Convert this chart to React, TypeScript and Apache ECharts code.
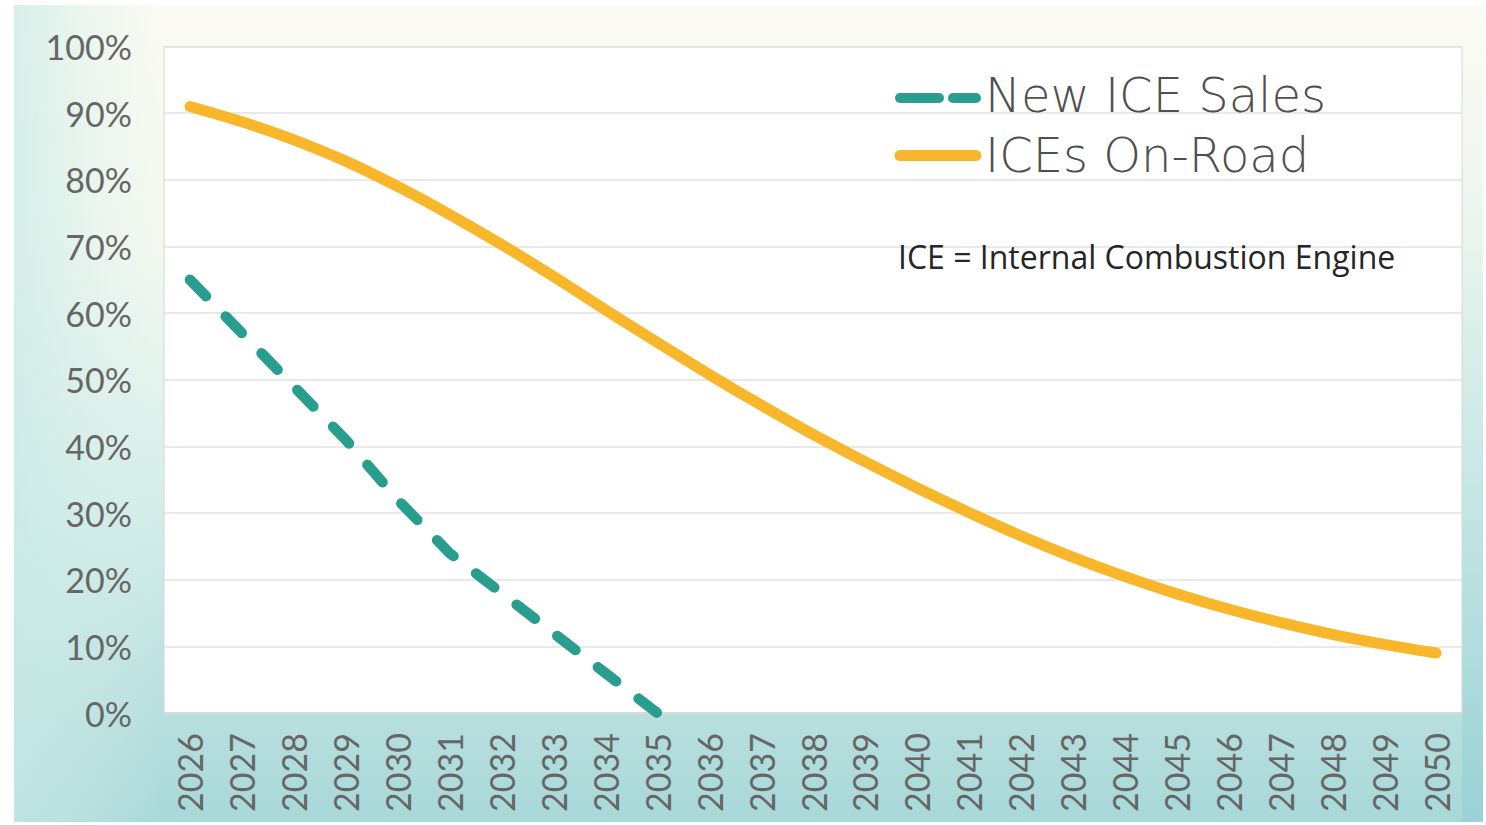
import React, { useEffect, useRef } from "react";
import * as echarts from "echarts";

const years = [
  "2026", "2027", "2028", "2029", "2030", "2031", "2032", "2033", "2034", "2035",
  "2036", "2037", "2038", "2039", "2040", "2041", "2042", "2043", "2044", "2045",
  "2046", "2047", "2048", "2049", "2050",
];

const newIceSales = [65, 57, 49, 41, 32, 24, 18, 12, 6, 0,
  null, null, null, null, null, null, null, null, null, null, null, null, null, null, null];

const iceOnRoad = [91, 88.7, 86, 82.8, 79, 74.8, 70.3, 65.5, 60.5, 55.6,
  50.8, 46.2, 41.8, 37.7, 33.8, 30.1, 26.6, 23.4, 20.5, 17.9, 15.6, 13.6, 11.8, 10.3, 9];

const yTicks = [0, 10, 20, 30, 40, 50, 60, 70, 80, 90, 100];

const seriesNames = ["New ICE Sales", "ICEs On-Road"];
const note = "ICE = Internal Combustion Engine";

const TEAL = "#2a9e8e";
const ORANGE = "#f8b62a";

export default function App() {
  const ref = useRef<HTMLDivElement>(null);

  useEffect(() => {
    if (!ref.current) return;
    const chart = echarts.init(ref.current, undefined, { renderer: "svg" });

    const option: any = {
      animation: false,
      backgroundColor: "#ffffff",
      grid: {
        left: 164,
        right: 24,
        top: 46.5,
        bottom: 112,
        show: true,
        backgroundColor: "#ffffff",
        borderColor: "#d6d6d6",
        borderWidth: 1,
      },
      xAxis: {
        type: "category",
        data: years,
        boundaryGap: true,
        axisLine: { show: true, lineStyle: { color: "#d8d8d8", width: 1.5 } },
        axisTick: { show: false },
        axisLabel: {
          rotate: 90,
          margin: 20,
          fontFamily: "Lato",
          fontSize: 34,
          color: "#666666",
          interval: 0,
        },
      },
      yAxis: {
        type: "value",
        min: yTicks[0],
        max: yTicks[yTicks.length - 1],
        interval: 10,
        axisLine: { show: false },
        axisTick: { show: false },
        splitLine: { lineStyle: { color: "#e2e2e2", width: 1.5 } },
        axisLabel: {
          margin: 32,
          fontFamily: "Lato",
          fontSize: 34,
          color: "#666666",
          formatter: (v: number) => `${v}%`,
        },
      },
      series: [
        {
          name: seriesNames[0],
          type: "line",
          data: newIceSales,
          showSymbol: false,
          symbol: "none",
          smooth: false,
          connectNulls: false,
          lineStyle: { color: TEAL, width: 10.5, type: [23, 28.3], cap: "round", join: "round" },
          itemStyle: { color: TEAL },
          z: 3,
        },
        {
          name: seriesNames[1],
          type: "line",
          data: iceOnRoad,
          showSymbol: false,
          symbol: "none",
          smooth: 0.3,
          lineStyle: { color: ORANGE, width: 11, cap: "round", join: "round" },
          itemStyle: { color: ORANGE },
          z: 4,
        },
      ],
      graphic: [
        {
          type: "rect",
          z: -20,
          silent: true,
          shape: { x: 14, y: 5, width: 1469, height: 817 },
          style: {
            fill: new echarts.graphic.LinearGradient(0, 0, 0, 1, [
              { offset: 0, color: "#fbfbf3" },
              { offset: 0.3, color: "#f3f8f0" },
              { offset: 0.6, color: "#d6eeea" },
              { offset: 1, color: "#a8d8d8" },
            ]),
          },
        },
        {
          type: "rect",
          z: -19,
          silent: true,
          shape: { x: 14, y: 5, width: 150, height: 817 },
          style: {
            fill: new echarts.graphic.LinearGradient(0, 0, 1, 0, [
              { offset: 0, color: "rgba(200,234,230,0.7)" },
              { offset: 1, color: "rgba(220,240,236,0)" },
            ]),
          },
        },
        {
          type: "rect",
          z: -19,
          silent: true,
          shape: { x: 1462, y: 5, width: 21, height: 817 },
          style: {
            fill: new echarts.graphic.LinearGradient(0, 0, 0, 1, [
              { offset: 0, color: "rgba(250,250,240,0)" },
              { offset: 0.35, color: "rgba(210,236,232,0.5)" },
              { offset: 1, color: "rgba(150,208,212,0.8)" },
            ]),
          },
        },
        // legend
        {
          type: "line",
          z: 100,
          silent: true,
          shape: { x1: 900, y1: 98, x2: 939, y2: 98 },
          style: { stroke: TEAL, lineWidth: 10, lineCap: "round" },
        },
        {
          type: "line",
          z: 100,
          silent: true,
          shape: { x1: 953, y1: 98, x2: 976, y2: 98 },
          style: { stroke: TEAL, lineWidth: 10, lineCap: "round" },
        },
        {
          type: "line",
          z: 100,
          silent: true,
          shape: { x1: 900, y1: 155.5, x2: 976, y2: 155.5 },
          style: { stroke: ORANGE, lineWidth: 11, lineCap: "round" },
        },
        {
          type: "text",
          z: 100,
          silent: true,
          x: 985,
          y: 95,
          style: {
            text: seriesNames[0],
            fontFamily: "DejaVu Sans",
            fontWeight: 300,
            fontSize: 48,
            fill: "#505050",
            verticalAlign: "middle",
            align: "left",
          },
        },
        {
          type: "text",
          z: 100,
          silent: true,
          x: 985,
          y: 155,
          style: {
            text: seriesNames[1],
            fontFamily: "DejaVu Sans",
            fontWeight: 300,
            fontSize: 48,
            fill: "#505050",
            verticalAlign: "middle",
            align: "left",
          },
        },
        {
          type: "text",
          z: 100,
          silent: true,
          x: 898,
          y: 256,
          style: {
            text: note,
            fontFamily: "Open Sans",
            fontSize: 32,
            fill: "#262626",
            verticalAlign: "middle",
            align: "left",
          },
        },
      ],
    };

    chart.setOption(option);
    return () => chart.dispose();
  }, []);

  return (
    <div
      ref={ref}
      style={{ position: "fixed", left: 0, top: 0, width: 1486, height: 825 }}
    />
  );
}
